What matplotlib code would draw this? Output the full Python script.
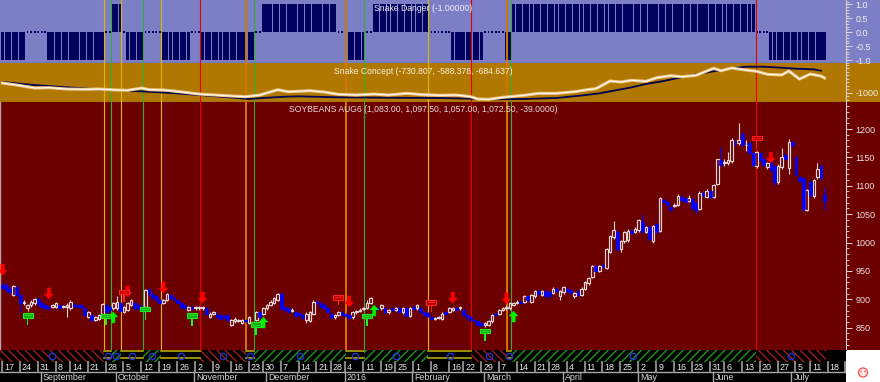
import numpy as np
import pandas as pd
import matplotlib
matplotlib.use('Agg')
import matplotlib.pyplot as plt
from matplotlib.patches import Rectangle, Polygon, Ellipse
from matplotlib.ticker import MultipleLocator, FixedLocator

plt.rcParams['font.family'] = ['Liberation Sans', 'DejaVu Sans']
plt.rcParams['hatch.linewidth'] = 1.0

# ---------------- data ----------------
first_day = '2015-08-17'
axis_last_day = '2016-07-29'
holidays = ['2015-09-07', '2015-11-26', '2015-12-25', '2016-01-01', '2016-01-18',
            '2016-02-15', '2016-03-25', '2016-05-30', '2016-07-04']

opens = [926, 925, 919, 908, 922, 908, 893, 884, 890, 893, 900, 893, 890, 887, 887, 887, 890, 886, 887, 884,
         891, 890, 890, 884, 869, 872, 863, 866, 869, 890, 887, 884, 884, 893, 878, 881, 890, 893, 890, 887,
         887, 919, 910, 905, 899, 893, 899, 908, 903, 899, 893, 890, 881, 887, 884, 884, 884, 884, 869, 875,
         875, 872, 870, 872, 855, 861, 862, 858, 864, 858, 858, 863, 878, 875, 884, 890, 893, 899, 909, 887,
         884,
         880, 878, 876, 872, 863, 862, 875, 896, 893, 890, 885, 875, 868, 872, 877, 874, 872, 868, 877, 880,
         883, 885, 893, 887, 885, 884, 884, 877, 884, 881, 884, 877, 884, 870, 887, 884, 884, 878, 876, 869,
         865, 867, 865, 878, 878, 881, 884, 884, 881, 872, 869, 864, 861, 858, 854, 855, 861, 875, 874, 881,
         884, 884, 890, 893, 896, 896, 905, 896, 905, 914, 908, 914, 913, 911, 919, 905, 912, 919, 917, 905,
         914,
         908, 919, 928, 940, 958, 950, 961, 956, 984, 1009, 1019, 988, 1002, 1004, 1021, 1019, 1022, 1037, 1019,
         1028, 1003, 1033, 1021,
         1075, 1072, 1062, 1064, 1066, 1080, 1078, 1074, 1076, 1069, 1059, 1087, 1080, 1090, 1081, 1104, 1146,
         1141, 1140, 1143, 1178, 1176, 1192, 1171, 1175, 1158, 1135, 1157, 1147, 1133, 1143, 1134, 1106, 1133,
         1154, 1131, 1177, 1151, 1116, 1113, 1057, 1107, 1082, 1115, 1135, 1083]
highs = [931, 928, 922, 926, 924, 910, 899, 892, 898, 903, 902, 895, 892, 889, 892, 896, 892, 890, 893, 898,
         894, 892, 892, 886, 880, 874, 871, 874, 893, 892, 889, 895, 905, 895, 889, 895, 901, 895, 892, 889,
         918, 921, 912, 907, 901, 901, 911, 910, 905, 901, 895, 892, 889, 889, 889, 889, 888, 886, 877, 880,
         877, 874, 872, 874, 865, 868, 866, 866, 866, 870, 860, 880, 880, 886, 892, 898, 904, 911, 912, 889,
         886,
         884, 880, 878, 874, 877, 879, 898, 898, 895, 892, 887, 877, 874, 880, 879, 876, 874, 880, 881, 884,
         887, 898, 904, 889, 887, 892, 886, 883, 886, 886, 886, 887, 886, 887, 889, 892, 886, 880, 878, 871,
         868, 871, 877, 880, 886, 887, 886, 889, 883, 874, 871, 866, 863, 860, 860, 863, 874, 877, 883, 886,
         888, 895, 895, 898, 898, 907, 907, 910, 916, 916, 916, 916, 915, 921, 921, 917, 923, 921, 919, 913,
         916,
         921, 932, 939, 961, 960, 961, 963, 990, 1014, 1038, 1022, 1004, 1021, 1023, 1023, 1027, 1041, 1051, 1030,
         1031, 1031, 1035, 1080,
         1078, 1075, 1065, 1070, 1085, 1084, 1081, 1083, 1079, 1072, 1090, 1090, 1094, 1093, 1104, 1148, 1168,
         1148, 1160, 1185, 1180, 1210, 1195, 1180, 1177, 1160, 1162, 1160, 1149, 1142, 1145, 1136, 1138, 1166,
         1157, 1182, 1179, 1153, 1118, 1115, 1095, 1110, 1112, 1141, 1138, 1097.5]
lows = [918, 913, 910, 905, 906, 878, 890, 880, 887, 890, 889, 884, 882, 881, 884, 885, 883, 884, 869, 882,
        887, 885, 884, 870, 867, 861, 861, 864, 867, 876, 879, 882, 882, 878, 876, 879, 888, 882, 882, 879,
        885, 908, 900, 897, 891, 891, 897, 900, 897, 891, 885, 882, 879, 882, 882, 882, 882, 873, 867, 873,
        867, 864, 866, 861, 853, 859, 860, 856, 859, 856, 852, 861, 867, 873, 882, 888, 891, 897, 882, 879,
        876,
        878, 868, 870, 865, 858, 860, 873, 891, 885, 882, 876, 866, 866, 870, 870, 868, 865, 866, 875, 878,
        881, 883, 891, 879, 881, 882, 875, 875, 879, 879, 876, 875, 868, 868, 881, 882, 876, 870, 868, 863,
        863, 865, 863, 872, 876, 879, 879, 882, 870, 866, 862, 859, 853, 852, 852, 853, 859, 870, 872, 879,
        882, 882, 888, 891, 891, 894, 897, 894, 903, 907, 906, 903, 904, 909, 912, 899, 910, 912, 909, 903,
        906,
        906, 917, 926, 938, 948, 948, 956, 954, 981, 1006, 985, 984, 999, 1001, 1015, 1017, 1019, 1017, 1017,
        1003, 1000, 1017, 1019,
        1070, 1064, 1056, 1062, 1064, 1073, 1070, 1072, 1058, 1050, 1057, 1082, 1078, 1078, 1079, 1102, 1134,
        1134, 1137, 1140, 1170, 1172, 1170, 1162, 1156, 1134, 1132, 1144, 1135, 1130, 1126, 1100, 1103, 1130,
        1145, 1121, 1168, 1117, 1107, 1055, 1055, 1080, 1079, 1112, 1111, 1057]
closes = [920, 916, 913, 923, 908, 893, 896, 890, 896, 900, 892, 887, 885, 884, 890, 893, 885, 888, 890, 896,
          889, 887, 886, 872, 878, 863, 869, 872, 891, 878, 881, 893, 896, 880, 887, 893, 899, 884, 884, 881,
          916, 910, 902, 899, 893, 899, 909, 902, 899, 893, 887, 884, 887, 884, 887, 887, 886, 875, 875, 878,
          869, 866, 868, 863, 863, 866, 864, 864, 861, 868, 855, 878, 869, 884, 890, 896, 902, 909, 884, 881,
          878,
          882, 870, 872, 867, 875, 877, 896, 893, 887, 884, 878, 868, 872, 878, 872, 870, 867, 878, 879, 882,
          885, 893, 902, 881, 883, 890, 877, 881, 881, 884, 878, 885, 870, 885, 883, 890, 878, 872, 870, 865,
          867, 869, 875, 874, 884, 885, 881, 887, 872, 868, 864, 861, 855, 854, 858, 861, 872, 872, 881, 884,
          886, 893, 893, 896, 893, 905, 899, 908, 914, 909, 914, 905, 906, 919, 914, 915, 921, 914, 911, 911,
          908,
          919, 930, 937, 959, 950, 959, 958, 988, 1011, 1022, 988, 1002, 1019, 1021, 1017, 1024, 1039, 1019, 1027,
          1006, 1029, 1019, 1078,
          1072, 1066, 1058, 1067, 1082, 1075, 1072, 1078, 1060, 1057, 1087, 1084, 1090, 1080, 1101, 1147, 1137,
          1142, 1145, 1180, 1177, 1181, 1172, 1172, 1158, 1137, 1160, 1146, 1137, 1141, 1128, 1106, 1135, 1151,
          1147, 1178, 1171, 1119, 1109, 1059, 1093, 1084, 1110, 1129, 1113, 1072.5]

danger_values = [-1, 0, -1, 0, 1, 0, -1, 0, -1, 0, -1, 0, 1, 0, -1, 0, 1, 0, -1, 0, -1, 1, 0, -1]
danger_lengths = [7, 6, 16, 2, 3, 1, 5, 5, 8, 3, 15, 2, 21, 3, 5, 2, 16, 6, 9, 6, 2, 68, 4, 16]

concept_slow_idx = [0, 9, 18, 27, 37, 46, 55, 65, 69, 74, 79, 83, 94, 108, 122, 132, 136, 146, 155, 162,
                    167, 171, 176, 180, 185, 190, 194, 199, 204, 208, 213, 218, 222, 227, 229]
concept_slow = [-847, -890, -923, -951, -976, -1000, -1033, -1072, -1090, -1072, -1057, -1052, -1066, -1072,
                -1076, -1086, -1095, -1090, -1076, -1040, -1009, -971, -923, -875, -832, -779, -736, -693,
                -650, -627, -627, -642, -656, -665, -684.6]
concept_fast_idx = [0, 4, 9, 13, 18, 23, 27, 32, 35, 39, 41, 45, 48, 55, 64, 68, 72, 77, 80, 86, 90, 94, 99,
                    104, 108, 113, 118, 122, 127, 131, 133, 136, 140, 146, 150, 155, 160, 164, 166, 170, 173,
                    176, 180, 183, 187, 190, 194, 199, 201, 204, 208, 211, 214, 218, 220, 223, 226, 229, 230]
concept_fast = [-861, -890, -933, -928, -947, -951, -947, -961, -966, -933, -957, -961, -976, -1019, -1047,
                -1057, -1033, -957, -986, -971, -990, -1023, -1033, -1019, -1033, -1009, -1029, -1037, -1033,
                -1057, -1090, -1095, -1066, -1037, -1009, -1009, -986, -954, -943, -832, -847, -822, -837,
                -785, -756, -771, -751, -650, -685, -646, -675, -693, -736, -746, -689, -804, -732, -761, -790]

event_pos = [28.5, 30.3, 33.2, 39.4, 44.4, 55.3, 68.0, 70.4, 96.0, 101.1, 119.1, 131.2, 141.1, 142.2, 210.8]
event_kind = ['Y', 'G', 'Y', 'G', 'Y', 'R', 'O', 'G', 'O', 'G', 'Y', 'R', 'O', 'G', 'R']

sell_arrow_idx = [0, 13, 35, 45, 56, 97, 126, 141, 215]
sell_arrow_tip = [942.8, 900.6, 904.1, 911.1, 893.5, 886.5, 893.5, 891.7, 1140.1]
buy_arrow_idx = [31, 73, 104, 143]
buy_arrow_tip = [877.7, 868.8, 890.0, 879.4]
red_flag_idx = [34, 94, 120, 211]
red_flag_box = [912.9, 903.2, 894.4, 1184.2]
red_flag_base = [895.3, 889.1, 876.8, 1166.6]
green_flag_idx = [7, 29, 40, 53, 71, 102, 135]
green_flag_box = [871.5, 870.6, 883.0, 871.5, 855.6, 870.6, 844.2]
green_flag_base = [854.8, 854.8, 863.6, 853.0, 837.1, 853.0, 826.6]

title_danger = 'Snake Danger (-1.00000)'
title_concept = 'Snake Concept (-730.807, -588.378, -684.637)'
title_price = 'SOYBEANS AUG6 (1,083.00, 1,097.50, 1,057.00, 1,072.50, -39.0000)'

# ---------------- style ----------------
C_TOP = '#7C7FC6'
C_BAR = '#00005E'
C_MID = '#B07800'
C_PR = '#6C0000'
C_UP = '#E4D6D6'
C_DN = '#0000FF'
EV_COL = {'Y': '#E0B800', 'G': '#30B030', 'R': '#E80000', 'O': '#D07800'}
EV_LW = {'Y': 0.8, 'G': 0.8, 'R': 0.8, 'O': 1.4}
STRIP_STATE = {'Y': 'Y', 'O': 'Y', 'G': 'G', 'R': 'R'}

W, H = 880.0, 382.0
PR = 846.0
fig = plt.figure(figsize=(8.8, 3.82), dpi=100)
fig.patch.set_facecolor('white')


def rect(top, bottom):
    return [0, 1 - bottom / H, PR / W, (bottom - top) / H]


ax_top = fig.add_axes(rect(0, 63))
ax_mid = fig.add_axes(rect(63, 102))
ax_pr = fig.add_axes(rect(102, 350))
ax_bot = fig.add_axes(rect(350, 382))

for t, b, col in [(0, 63, C_TOP), (63, 102, C_MID), (102, 350, C_PR)]:
    fig.add_artist(Rectangle((PR / W, 1 - b / H), (W - PR) / W, (b - t) / H,
                             transform=fig.transFigure, facecolor=col, edgecolor='none', zorder=-5))

n = len(closes)
idx = np.arange(n)
XL = (-0.70, 236.0)
for ax, col in [(ax_top, C_TOP), (ax_mid, C_MID), (ax_pr, C_PR), (ax_bot, 'black')]:
    ax.set_facecolor(col)
    ax.set_xlim(*XL)
    ax.set_xticks([])
    for s in ax.spines.values():
        s.set_visible(False)

# right axis styling
for ax in (ax_top, ax_mid, ax_pr):
    ax.yaxis.tick_right()
    ax.spines['right'].set_visible(True)
    ax.spines['right'].set_color('#D8D0D0')
    ax.spines['right'].set_linewidth(0.8)
    ax.spines['bottom'].set_visible(True)
    ax.spines['bottom'].set_color('#303030')
    ax.spines['bottom'].set_linewidth(0.8)
    ax.tick_params(axis='y', which='major', length=4, width=0.7, color='#E0D8D8',
                   labelsize=6.5, labelcolor='#F2F2F2', pad=3)
    ax.tick_params(axis='y', which='minor', length=2, width=0.6, color='#E0D8D8')

# ---- top: Snake Danger ----
danger = np.repeat(danger_values, danger_lengths)
nz = danger != 0
ax_top.bar(idx[nz], danger[nz], width=0.86, color=C_BAR, linewidth=0, zorder=2)
ax_top.bar(idx[~nz], 0.06, bottom=-0.03, width=0.5, color=C_BAR, linewidth=0, zorder=2)
ax_top.set_ylim(-1.108, 1.162)
ax_top.yaxis.set_major_locator(FixedLocator([-1.0, -0.5, 0.0, 0.5, 1.0]))
ax_top.yaxis.set_minor_locator(MultipleLocator(0.1))
ax_top.set_yticklabels(['-1.0', '-0.5', '0.0', '0.5', '1.0'])
ax_top.text(0.5, 0.87, title_danger, transform=ax_top.transAxes, ha='center', va='center',
            fontsize=6.2, color='#F0F0F8', zorder=6)

# ---- middle: Snake Concept ----
ax_mid.plot(concept_slow_idx, concept_slow, color='#000050', lw=1.3, zorder=3)
ax_mid.plot(concept_fast_idx, concept_fast, color='#EFC88C', lw=2.2, zorder=4)
ax_mid.plot(concept_fast_idx, concept_fast, color='#FFFFFF', lw=0.7, zorder=5)
ax_mid.set_ylim(-1133, -574)
ax_mid.yaxis.set_major_locator(FixedLocator([-1000]))
ax_mid.yaxis.set_minor_locator(MultipleLocator(50))
ax_mid.set_yticklabels(['-1000'])
ax_mid.text(0.5, 0.79, title_concept, transform=ax_mid.transAxes, ha='center', va='center',
            fontsize=6.2, color='#F4F0E8', zorder=6)

# ---- price panel ----
o = np.array(opens, float)
h = np.array(highs, float)
l = np.array(lows, float)
c = np.array(closes, float)
up = c >= o
ax_pr.vlines(idx[up], l[up], h[up], color=C_UP, lw=0.8, zorder=3)
ax_pr.vlines(idx[~up], l[~up], h[~up], color=C_DN, lw=0.8, zorder=3)
ax_pr.bar(idx[up], (c - o)[up], bottom=o[up], width=0.72, facecolor=C_PR, edgecolor=C_UP,
          linewidth=0.85, zorder=4)
ax_pr.bar(idx[~up], (o - c)[~up], bottom=c[~up], width=0.8, facecolor=C_DN, edgecolor=C_DN,
          linewidth=0.5, zorder=4)
ax_pr.set_ylim(810.7, 1247.6)
ax_pr.yaxis.set_major_locator(MultipleLocator(50))
ax_pr.yaxis.set_minor_locator(MultipleLocator(10))
ax_pr.tick_params(axis='y', labelcolor='#ECE0E0')
ax_pr.spines['left'].set_visible(True)
ax_pr.spines['left'].set_color('#B8A8A8')
ax_pr.spines['left'].set_linewidth(1.0)
ax_pr.text(0.5, 0.968, title_price, transform=ax_pr.transAxes, ha='center', va='center',
           fontsize=6.2, color='#E8D8D8', zorder=6)

# event lines across three panels
for pos, kind in zip(event_pos, event_kind):
    for ax, z in ((ax_top, 3), (ax_mid, 2), (ax_pr, 1.5)):
        ax.axvline(pos, color=EV_COL[kind], lw=EV_LW[kind], zorder=z)

# pixel size helpers for the price panel
px_x = (PR) / (XL[1] - XL[0])
px_y = 248.0 / (1247.6 - 810.7)


def dx(p):
    return p / px_x


def dy(p):
    return p / px_y


def arrow(ax, x0, tip, direction, col):
    s = 1 if direction == 'down' else -1
    pts = [(0, 0), (-4.5, 5), (-1.7, 5), (-1.7, 11), (1.7, 11), (1.7, 5), (4.5, 5)]
    verts = [(x0 + dx(px), tip + s * dy(py)) for px, py in pts]
    ax.add_patch(Polygon(verts, closed=True, facecolor=col, edgecolor=col, lw=0.3, zorder=7))


def flag(ax, x0, ybox, ybase, face, edge):
    ax.add_patch(Rectangle((x0 - dx(0.8), ybase), dx(1.6), ybox - ybase, facecolor=edge,
                           edgecolor='none', zorder=7))
    ax.add_patch(Rectangle((x0 - dx(5), ybox - dy(2.4)), dx(10), dy(4.8), facecolor=face,
                           edgecolor=edge, lw=0.8, zorder=8))
    ax.plot([x0 - dx(3), x0 + dx(3)], [ybox, ybox], color=edge, lw=0.6, zorder=9)


for xi, tp in zip(sell_arrow_idx, sell_arrow_tip):
    arrow(ax_pr, xi, tp, 'down', '#FF0000')
for xi, tp in zip(buy_arrow_idx, buy_arrow_tip):
    arrow(ax_pr, xi, tp, 'up', '#00F000')
for xi, yb, ys in zip(red_flag_idx, red_flag_box, red_flag_base):
    flag(ax_pr, xi, yb, ys, '#B80000', '#FF2020')
for xi, yb, ys in zip(green_flag_idx, green_flag_box, green_flag_base):
    flag(ax_pr, xi, yb, ys, '#18A818', '#20F020')

# ---- bottom strip + date axis ----
ax_bot.set_ylim(32, 0)
ax_bot.set_yticks([])
bounds = [XL[0]] + list(event_pos) + [n - 0.5]
states = ['R'] + [STRIP_STATE[k] for k in event_kind]
for i, st in enumerate(states):
    a, b = bounds[i], bounds[i + 1]
    if st == 'R':
        ax_bot.add_patch(Rectangle((a, 0), b - a, 11.5, facecolor='black', edgecolor='#A81818',
                                   hatch='\\\\\\\\', lw=0, zorder=2))
    elif st == 'G':
        ax_bot.add_patch(Rectangle((a, 0), b - a, 11.5, facecolor='black', edgecolor='#1E961E',
                                   hatch='////', lw=0, zorder=2))
    else:
        ax_bot.plot([a, b], [1.0, 1.0], color='#B8A800', lw=1.2, zorder=3)
        ax_bot.plot([a, b], [7.5, 7.5], color='#B8A800', lw=1.2, zorder=3)
    ax_bot.plot([(a + b) / 2], [5.8], marker='o', ms=4.5, mfc='none', mec='#2233CC', mew=1.0, zorder=4)

days = pd.bdate_range(first_day, axis_last_day, freq='C', holidays=holidays)
week = days.to_period('W')
week_start = [0] + [i for i in range(1, len(days)) if week[i] != week[i - 1]]
month_start = [i for i in range(1, len(days)) if days[i].month != days[i - 1].month]

ax_bot.plot([XL[0], XL[1]], [22, 22], color='#A8A8A8', lw=1.0, zorder=3)
for i in week_start:
    ax_bot.plot([i - 0.15, i - 0.15], [12, 21.5], color='#A0A0A0', lw=1.2, zorder=3)
    ax_bot.text(i + 0.45, 17, str(days[i].day), fontsize=6.4, color='#E8E8E8', ha='left',
                va='center', clip_on=True, zorder=4)
for i in month_start:
    lab = str(days[i].year) if days[i].month == 1 else days[i].strftime('%B')
    ax_bot.plot([i - 0.3, i - 0.3], [22, 32], color='#A8A8A8', lw=1.0, zorder=3)
    ax_bot.text(i + 0.3, 27.3, lab, fontsize=6.4, color='#D8D8D8', ha='left', va='center',
                clip_on=True, zorder=4)

# small status icon bottom-right
fig.add_artist(Ellipse((863 / W, 1 - 372.5 / H), 9 / W, 9 / H, transform=fig.transFigure,
                       facecolor='#FFE8E8', edgecolor='#F05A5A', lw=1.0, zorder=5))
fig.add_artist(Ellipse((861 / W, 1 - 371.5 / H), 1.6 / W, 1.6 / H, transform=fig.transFigure,
                       facecolor='#F05A5A', edgecolor='none', zorder=6))
fig.add_artist(Ellipse((865 / W, 1 - 371.5 / H), 1.6 / W, 1.6 / H, transform=fig.transFigure,
                       facecolor='#F05A5A', edgecolor='none', zorder=6))

fig.savefig('out.png', dpi=100, facecolor=fig.get_facecolor())
